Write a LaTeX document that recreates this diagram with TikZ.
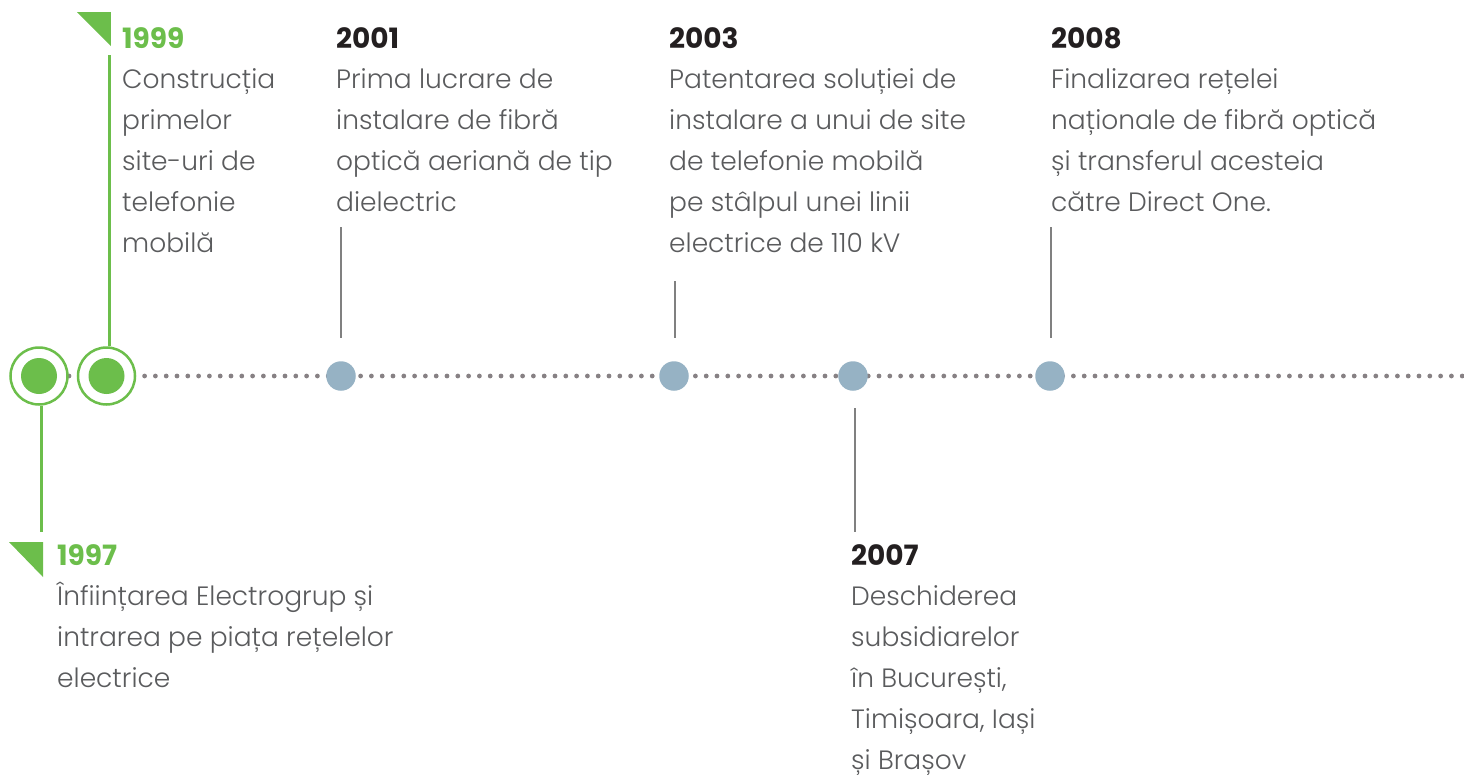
\documentclass[tikz,border=0pt]{standalone}
\usepackage{fontspec}
\newfontfamily\bodyfont{Poppins Light}
\newfontfamily\yearfont{Poppins Bold}
\definecolor{grn}{HTML}{6CBE4B}
\definecolor{blu}{HTML}{96B2C4}
\definecolor{txt}{HTML}{5A5B5D}
\definecolor{dark}{HTML}{231F20}
\definecolor{dotc}{HTML}{878184}
\definecolor{stem}{HTML}{808080}
\newcommand{\Ln}[1]{\hbox{#1}}
\tikzset{
  yr/.style={anchor=base west, inner sep=0pt, font=\yearfont\fontsize{28}{28}\selectfont, text=dark},
  gyr/.style={yr, text=grn},
  body/.style={anchor=base west, inner sep=0pt, font=\bodyfont\fontsize{26.5}{41}\selectfont, text=txt},
  bdot/.style={circle, fill=blu, minimum size=29.5pt, inner sep=0pt},
  gring/.style={circle, draw=grn, line width=2.5pt, fill=white, minimum size=57pt, inner sep=0pt},
  gdot/.style={circle, fill=grn, minimum size=36pt, inner sep=0pt},
  gstem/.style={draw=grn, line width=3pt},
  pstem/.style={draw=stem, line width=2pt},
  dotline/.style={draw=dotc, line width=4.8pt, line cap=round, dash pattern=on 0pt off 10.8pt},
}
\begin{document}
\begin{tikzpicture}[x=1pt, y=-1pt]
\useasboundingbox (0,0) rectangle (1464,774);
% timeline
\coordinate (tl0) at (69,376);
\coordinate (tl1) at (1475,376);
\draw[dotline] (tl0) -- (tl1);
% green markers
\node[gring] (r1997) at (39,376) {};
\node[gdot] (c1997) at (r1997) {};
\node[gring] (r1999) at (106.5,376) {};
\node[gdot] (c1999) at (r1999) {};
% blue dots
\node[bdot] (d2001) at (341,376) {};
\node[bdot] (d2003) at (674,376) {};
\node[bdot] (d2007) at (853,376) {};
\node[bdot] (d2008) at (1050,376) {};
% green stems and flags
\coordinate (s1999) at (109,55);
\draw[gstem] (r1999.north -| s1999) -- (s1999);
\fill[grn] (77,12) -- (110.8,12) -- (110.8,46) -- cycle;
\coordinate (s1997) at (41.5,532);
\draw[gstem] (r1997.south -| s1997) -- (s1997);
\fill[grn] (9,542) -- (43,542) -- (43,577) -- cycle;
% gray stems
\coordinate (a2001) at (341,227); \coordinate (b2001) at (341,338);
\draw[pstem] (a2001) -- (b2001);
\coordinate (a2003) at (675,281); \coordinate (b2003) at (675,338);
\draw[pstem] (a2003) -- (b2003);
\coordinate (a2007) at (855,408); \coordinate (b2007) at (855,532);
\draw[pstem] (a2007) -- (b2007);
\coordinate (a2008) at (1051,227); \coordinate (b2008) at (1051,338);
\draw[pstem] (a2008) -- (b2008);
% texts
\node[gyr] (y1999) at (122,48) {1999};
\node[body] (t1999) at (122,88) {\vtop{\Ln{Construcția}\Ln{primelor}\Ln{site-uri de}\Ln{telefonie}\Ln{mobilă}}};
\node[yr] (y2001) at (336,48) {2001};
\node[body] (t2001) at (336,88) {\vtop{\Ln{Prima lucrare de}\Ln{instalare de fibră}\Ln{optică aeriană de tip}\Ln{dielectric}}};
\node[yr] (y2003) at (669,48) {2003};
\node[body] (t2003) at (669,88) {\vtop{\Ln{Patentarea soluției de}\Ln{instalare a unui de site}\Ln{de telefonie mobilă}\Ln{pe stâlpul unei linii}\Ln{electrice de 110 kV}}};
\node[yr] (y2008) at (1051,48) {2008};
\node[body] (t2008) at (1051,88) {\vtop{\Ln{Finalizarea rețelei}\Ln{naționale de fibră optică}\Ln{și transferul acesteia}\Ln{către Direct One.}}};
\node[gyr] (y1997) at (57,565) {1997};
\node[body] (t1997) at (57,605) {\vtop{\Ln{Înființarea Electrogrup și}\Ln{intrarea pe piața rețelelor}\Ln{electrice}}};
\node[yr] (y2007) at (851,565) {2007};
\node[body] (t2007) at (851,605) {\vtop{\Ln{Deschiderea}\Ln{subsidiarelor}\Ln{în București,}\Ln{Timișoara, Iași}\Ln{și Brașov}}};
\end{tikzpicture}
\end{document}
